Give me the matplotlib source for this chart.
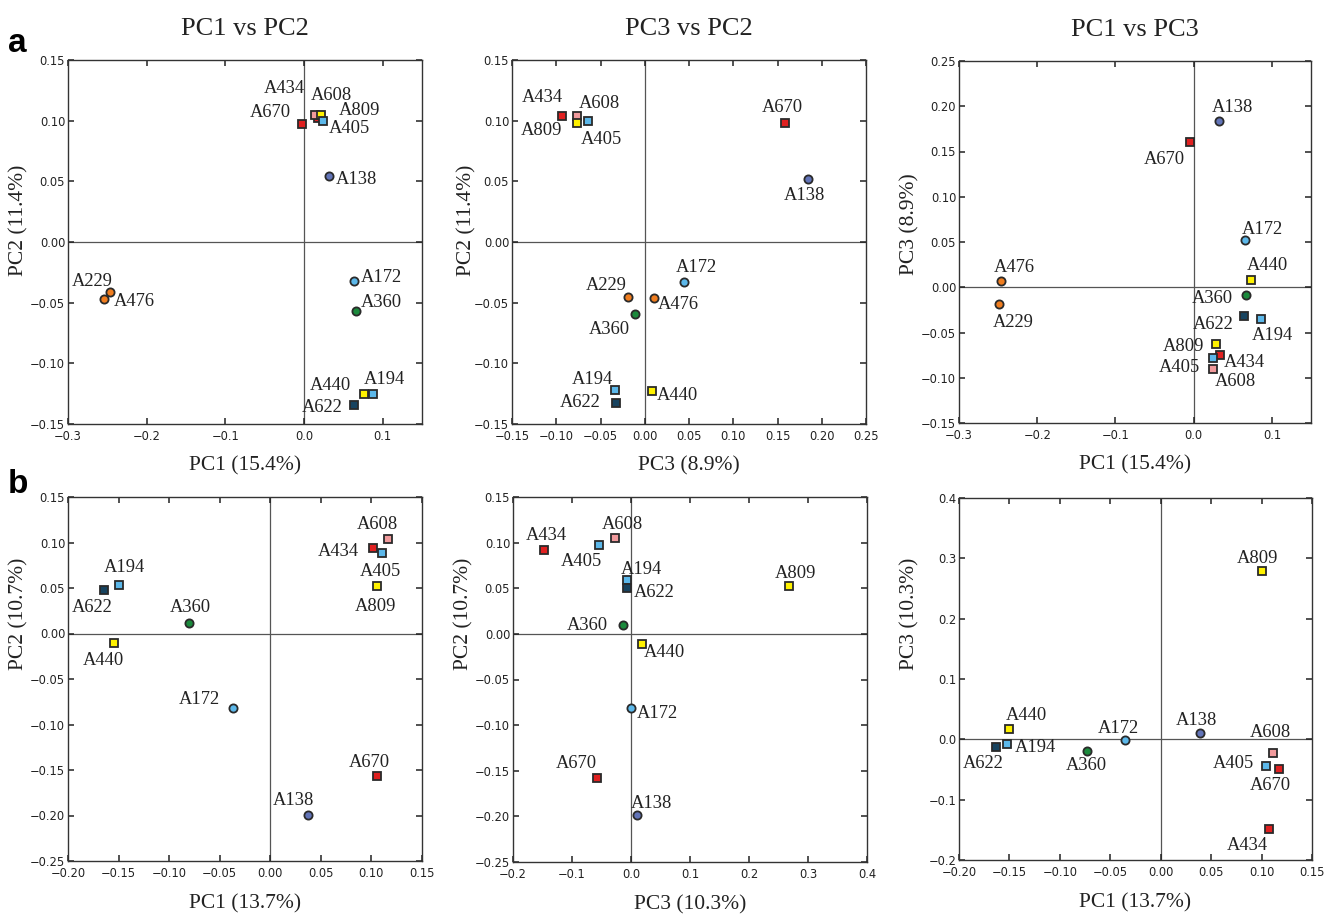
import matplotlib
matplotlib.use("Agg")
import matplotlib.pyplot as plt
from matplotlib.ticker import FixedLocator, FixedFormatter

# ---------------- data ----------------
samples_a = ['A138', 'A172', 'A229', 'A476', 'A360', 'A440', 'A194', 'A622',
             'A670', 'A434', 'A608', 'A809', 'A405']
samples_b = ['A138', 'A172', 'A360', 'A440', 'A194', 'A622',
             'A670', 'A434', 'A608', 'A809', 'A405']

# row a, PC1 vs PC2
a_pc1_12 = [0.032, 0.064, -0.254, -0.246, 0.066, 0.076, 0.088, 0.064,
            -0.003, 0.018, 0.014, 0.022, 0.024]
a_pc2_12 = [0.054, -0.032, -0.047, -0.041, -0.057, -0.125, -0.125, -0.134,
            0.097, 0.102, 0.105, 0.105, 0.100]
# row a, PC3 vs PC2
a_pc3_32 = [0.185, 0.044, -0.019, 0.011, -0.011, 0.008, -0.034, -0.032,
            0.159, -0.093, -0.076, -0.076, -0.064]
a_pc2_32 = [0.052, -0.033, -0.045, -0.046, -0.059, -0.123, -0.122, -0.133,
            0.098, 0.104, 0.104, 0.098, 0.100]
# row a, PC1 vs PC3
a_pc1_13 = [0.033, 0.066, -0.249, -0.246, 0.067, 0.073, 0.086, 0.064,
            -0.005, 0.034, 0.025, 0.029, 0.025]
a_pc3_13 = [0.184, 0.052, -0.018, 0.007, -0.009, 0.008, -0.035, -0.032,
            0.161, -0.075, -0.090, -0.063, -0.078]

# row b, PC1 vs PC2
b_pc1_12 = [0.037, -0.037, -0.080, -0.155, -0.150, -0.164,
            0.106, 0.102, 0.116, 0.106, 0.110]
b_pc2_12 = [-0.199, -0.082, 0.011, -0.010, 0.053, 0.048,
            -0.157, 0.094, 0.104, 0.052, 0.089]
# row b, PC3 vs PC2
b_pc3_32 = [0.010, 0.000, -0.014, 0.018, -0.007, -0.006,
            -0.058, -0.148, -0.027, 0.268, -0.055]
b_pc2_32 = [-0.199, -0.081, 0.010, -0.011, 0.059, 0.050,
            -0.158, 0.092, 0.105, 0.052, 0.097]
# row b, PC1 vs PC3
b_pc1_13 = [0.039, -0.035, -0.073, -0.150, -0.152, -0.163,
            0.117, 0.107, 0.111, 0.100, 0.104]
b_pc3_13 = [0.010, -0.001, -0.019, 0.017, -0.007, -0.013,
            -0.049, -0.148, -0.023, 0.279, -0.044]

# axis tick labels
ticks_x_a1 = [-0.3, -0.2, -0.1, 0.0, 0.1]
ticklabels_x_a1 = ['\u22120.3', '\u22120.2', '\u22120.1', '0.0', '0.1']
ticks_y_15 = [-0.15, -0.10, -0.05, 0.0, 0.05, 0.10, 0.15]
ticklabels_y_15 = ['\u22120.15', '\u22120.10', '\u22120.05', '0.00', '0.05', '0.10', '0.15']
ticks_x_a2 = [-0.15, -0.10, -0.05, 0.0, 0.05, 0.10, 0.15, 0.20, 0.25]
ticklabels_x_a2 = ['\u22120.15', '\u22120.10', '\u22120.05', '0.00', '0.05', '0.10', '0.15', '0.20', '0.25']
ticks_y_a3 = [-0.15, -0.10, -0.05, 0.0, 0.05, 0.10, 0.15, 0.20, 0.25]
ticklabels_y_a3 = ['\u22120.15', '\u22120.10', '\u22120.05', '0.00', '0.05', '0.10', '0.15', '0.20', '0.25']
ticks_x_b13 = [-0.20, -0.15, -0.10, -0.05, 0.0, 0.05, 0.10, 0.15]
ticklabels_x_b13 = ['\u22120.20', '\u22120.15', '\u22120.10', '\u22120.05', '0.00', '0.05', '0.10', '0.15']
ticks_y_b12 = [-0.25, -0.20, -0.15, -0.10, -0.05, 0.0, 0.05, 0.10, 0.15]
ticklabels_y_b12 = ['\u22120.25', '\u22120.20', '\u22120.15', '\u22120.10', '\u22120.05', '0.00', '0.05', '0.10', '0.15']
ticks_x_b2 = [-0.2, -0.1, 0.0, 0.1, 0.2, 0.3, 0.4]
ticklabels_x_b2 = ['\u22120.2', '\u22120.1', '0.0', '0.1', '0.2', '0.3', '0.4']
ticks_y_b3 = [-0.2, -0.1, 0.0, 0.1, 0.2, 0.3, 0.4]
ticklabels_y_b3 = ['\u22120.2', '\u22120.1', '0.0', '0.1', '0.2', '0.3', '0.4']

# ---------------- styles ----------------
colors = {
    'A670': '#e02020', 'A434': '#e02020', 'A608': '#f19a9c',
    'A809': '#fff200', 'A440': '#fff200', 'A405': '#5cb8ea',
    'A194': '#5cb8ea', 'A172': '#5cb8ea', 'A622': '#17435f',
    'A138': '#6274b8', 'A229': '#f07d1f', 'A476': '#f07d1f',
    'A360': '#1b8a3c',
}
markers = {n: 's' for n in colors}
for n in ['A138', 'A172', 'A229', 'A476', 'A360']:
    markers[n] = 'o'

# label offsets in pixels (dx, dy) relative to the marker, text baseline-centered
off_a1 = {'A434': (-34, 25), 'A608': (16, 15), 'A809': (38, 0), 'A405': (27, -12),
          'A670': (-31, 7), 'A138': (27, -8), 'A229': (-12, 13), 'A476': (24, -14),
          'A172': (27, -1), 'A360': (25, 4), 'A440': (-33, 4), 'A194': (11, 10),
          'A622': (-32, -7)}
off_a2 = {'A434': (-20, 14), 'A608': (22, 8), 'A809': (-36, -12), 'A405': (13, -23),
          'A670': (-3, 11), 'A138': (-4, -21), 'A172': (13, 10), 'A229': (-22, 7),
          'A476': (24, -11), 'A360': (-26, -20), 'A194': (-22, 6), 'A622': (-36, -4),
          'A440': (26, -9)}
off_a3 = {'A138': (13, 9), 'A670': (-25, -22), 'A172': (17, 6), 'A440': (17, 10),
          'A476': (13, 9), 'A229': (14, -23), 'A360': (-34, -8), 'A622': (-31, -13),
          'A194': (11, -21), 'A809': (-33, -7), 'A434': (24, -12), 'A405': (-34, -14),
          'A608': (22, -17)}
off_b1 = {'A608': (-10, 10), 'A434': (-35, -8), 'A405': (-1, -23), 'A809': (-2, -25),
          'A194': (6, 13), 'A622': (-12, -22), 'A360': (1, 11), 'A440': (-10, -22),
          'A172': (-33, 4), 'A670': (-8, 9), 'A138': (-14, 10)}
off_b2 = {'A434': (3, 10), 'A405': (-17, -21), 'A608': (7, 9), 'A194': (15, 6),
          'A622': (27, -9), 'A360': (-35, -5), 'A440': (23, -13), 'A172': (26, -10),
          'A670': (-20, 10), 'A138': (15, 7), 'A809': (6, 8)}
off_b3 = {'A809': (-4, 8), 'A440': (17, 9), 'A194': (28, -8), 'A622': (-13, -21),
          'A360': (-1, -19), 'A172': (-7, 7), 'A138': (-4, 8), 'A608': (-2, 16),
          'A405': (-32, -2), 'A670': (-8, -21), 'A434': (-21, -21)}

SERIF = ['Liberation Serif', 'DejaVu Serif']
W, H = 1336, 914
fig = plt.figure(figsize=(W / 100, H / 100), dpi=100)
fig.patch.set_facecolor('white')


def make_axes(px):
    l, t, r, b = px
    return fig.add_axes([l / W, 1 - b / H, (r - l) / W, (b - t) / H])


def panel(px, names, xs, ys, offs, xlim, ylim, xt, xtl, yt, ytl,
          xlabel, ylabel, title, ylab_pos, xlab_y):
    ax = make_axes(px)
    ax.set_xlim(*xlim)
    ax.set_ylim(*ylim)
    ax.axhline(0, color='#555555', lw=0.9, zorder=1)
    ax.axvline(0, color='#555555', lw=0.9, zorder=1)
    for n, x, y in zip(names, xs, ys):
        ax.plot([x], [y], linestyle='none', marker=markers[n], ms=5.9,
                mfc=colors[n], mec='#2a2a2a', mew=1.3, zorder=3)
        dx, dy = offs[n]
        ax.annotate(n, (x, y), xytext=(dx, dy), textcoords='offset pixels',
                    ha='center', va='baseline', fontsize=13.3, family=SERIF,
                    color='#222222', zorder=4)
    ax.xaxis.set_major_locator(FixedLocator(xt))
    ax.xaxis.set_major_formatter(FixedFormatter(xtl))
    ax.yaxis.set_major_locator(FixedLocator(yt))
    ax.yaxis.set_major_formatter(FixedFormatter(ytl))
    ax.tick_params(direction='in', length=4.5, width=1.1, top=True, right=True,
                   labelsize=8.3, colors='#222222')
    ax.tick_params(axis='x', pad=4)
    ax.tick_params(axis='y', pad=2)
    for s in ax.spines.values():
        s.set_color('#333333')
        s.set_linewidth(1.0)
    ax.set_xlabel(xlabel, fontsize=15.5, family=SERIF, color='#222222')
    ax.set_ylabel(ylabel, fontsize=15.5, family=SERIF, color='#222222')
    ax.yaxis.set_label_coords(*ylab_pos)
    ax.xaxis.set_label_coords(0.5, xlab_y)
    if title:
        ax.set_title(title, fontsize=19, family=SERIF, pad=18, color='#222222')
    return ax


panel((68, 60, 422, 424), samples_a, a_pc1_12, a_pc2_12, off_a1,
      (-0.3, 0.15), (-0.15, 0.15), ticks_x_a1, ticklabels_x_a1,
      ticks_y_15, ticklabels_y_15, 'PC1 (15.4%)', 'PC2 (11.4%)',
      'PC1 vs PC2', (-0.113, 0.56), -0.088)
panel((512, 60, 866, 424), samples_a, a_pc3_32, a_pc2_32, off_a2,
      (-0.15, 0.25), (-0.15, 0.15), ticks_x_a2, ticklabels_x_a2,
      ticks_y_15, ticklabels_y_15, 'PC3 (8.9%)', 'PC2 (11.4%)',
      'PC3 vs PC2', (-0.099, 0.56), -0.088)
panel((959, 61, 1311, 423), samples_a, a_pc1_13, a_pc3_13, off_a3,
      (-0.3, 0.15), (-0.15, 0.25), ticks_x_a1, ticklabels_x_a1,
      ticks_y_a3, ticklabels_y_a3, 'PC1 (15.4%)', 'PC3 (8.9%)',
      'PC1 vs PC3', (-0.111, 0.55), -0.088)

panel((68, 497, 422, 861), samples_b, b_pc1_12, b_pc2_12, off_b1,
      (-0.2, 0.15), (-0.25, 0.15), ticks_x_b13, ticklabels_x_b13,
      ticks_y_b12, ticklabels_y_b12, 'PC1 (13.7%)', 'PC2 (10.7%)',
      None, (-0.113, 0.68), -0.092)
panel((513, 497, 867, 862), samples_b, b_pc3_32, b_pc2_32, off_b2,
      (-0.2, 0.4), (-0.25, 0.15), ticks_x_b2, ticklabels_x_b2,
      ticks_y_b12, ticklabels_y_b12, 'PC3 (10.3%)', 'PC2 (10.7%)',
      None, (-0.113, 0.68), -0.092)
panel((959, 498, 1312, 860), samples_b, b_pc1_13, b_pc3_13, off_b3,
      (-0.2, 0.15), (-0.2, 0.4), ticks_x_b13, ticklabels_x_b13,
      ticks_y_b3, ticklabels_y_b3, 'PC1 (13.7%)', 'PC3 (10.3%)',
      None, (-0.111, 0.68), -0.092)

fig.text(8 / W, 1 - 52 / H, 'a', fontsize=24, fontweight='bold',
         family=['Liberation Sans', 'DejaVu Sans'], va='baseline', ha='left')
fig.text(8 / W, 1 - 493 / H, 'b', fontsize=24, fontweight='bold',
         family=['Liberation Sans', 'DejaVu Sans'], va='baseline', ha='left')

fig.savefig('out.png', dpi=100, facecolor='white')
